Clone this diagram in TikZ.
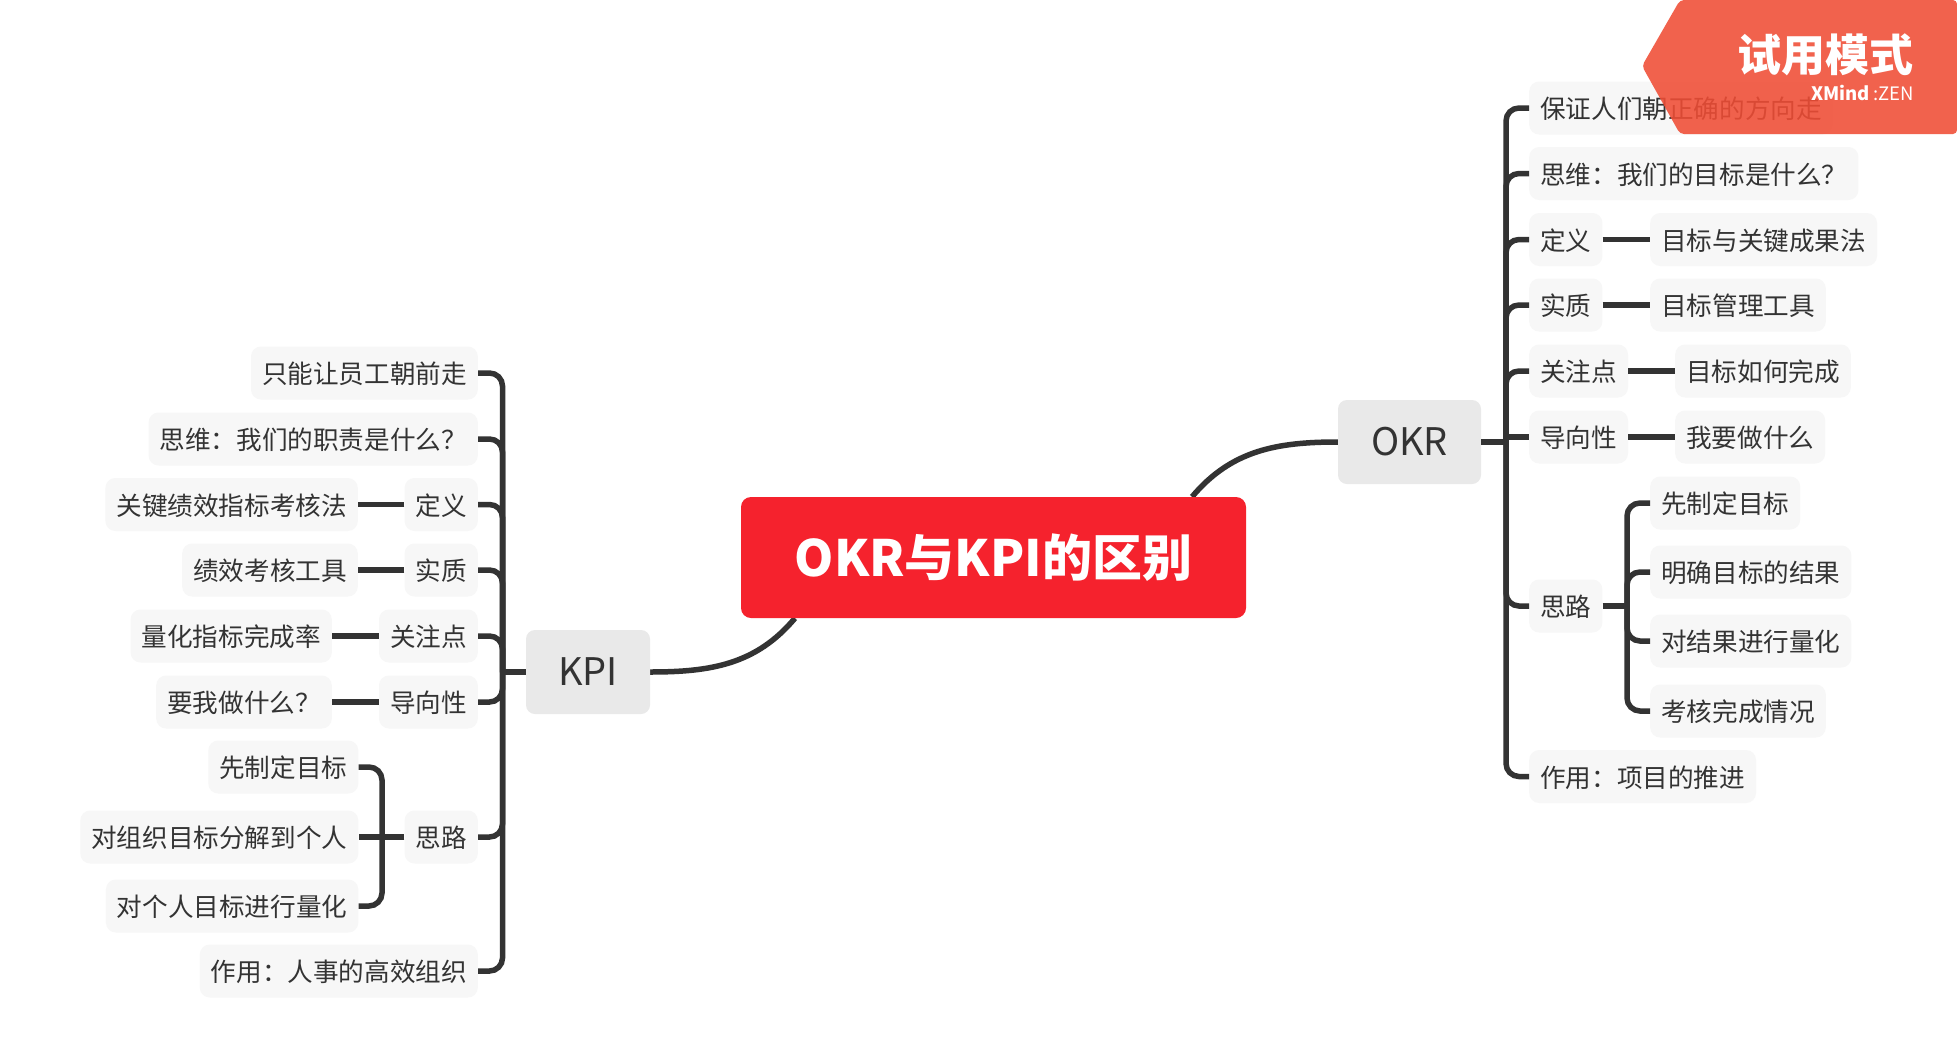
\documentclass[tikz,border=0pt]{standalone}
\usepackage{fontspec}
\usetikzlibrary{backgrounds}
\setmainfont{Noto Sans CJK SC}
\definecolor{inkgrey}{HTML}{333333}
\definecolor{boxgrey}{HTML}{F7F7F7}
\definecolor{maingrey}{HTML}{E9E9E9}
\definecolor{titlered}{HTML}{F5222D}
\definecolor{trialred}{HTML}{F04D35}
\tikzstyle{leaf}=[fill=boxgrey,rounded corners=10pt,minimum height=53pt,inner xsep=11pt,text height=26pt,text depth=4.6pt,text=inkgrey,font=\fontsize{25.6}{30}\selectfont]
\tikzstyle{leafleft}=[leaf,anchor=east]
\tikzstyle{leafright}=[leaf,anchor=west]
\tikzstyle{mainbox}=[fill=maingrey,rounded corners=9pt,minimum height=84pt,text=inkgrey,font=\fontsize{38}{44}\selectfont]
\tikzstyle{titlebox}=[fill=titlered,rounded corners=10pt,minimum width=505pt,minimum height=121pt,text=white,font=\fontsize{50}{58}\selectfont\bfseries]
\tikzstyle{branch}=[draw=inkgrey,line width=5.5pt,rounded corners=13pt]
\begin{document}
\begin{tikzpicture}[x=1pt,y=1pt]
\tikzstyle{every node}+=[inner sep=0pt]
\useasboundingbox (0,0) rectangle (1957,-1050);
\node (title) [titlebox] at (993.5,-557.5) {OKR与KPI的区别};
\node (okr) [mainbox,minimum width=143pt] at (1409.5,-442) {OKR};
\node (kpi) [mainbox,minimum width=124pt] at (588,-672) {KPI};
\coordinate (okrbus) at (1506,-442);
\coordinate (kpibus) at (502.5,-672);
\coordinate (okrsub) at (1627,-606);
\coordinate (kpisub) at (382,-837);
\node (okra) [leafright] at (1529,-108) {保证人们朝正确的方向走};
\node (okrb) [leafright] at (1529,-173.5) {思维：我们的目标是什么？};
\node (okrc) [leafright] at (1529,-239.5) {定义};
\node (okrcc) [leafright] at (1650,-239.5) {目标与关键成果法};
\node (okrd) [leafright] at (1529,-305) {实质};
\node (okrdd) [leafright] at (1650,-305) {目标管理工具};
\node (okre) [leafright] at (1529,-371) {关注点};
\node (okree) [leafright] at (1675,-371) {目标如何完成};
\node (okrf) [leafright] at (1529,-437) {导向性};
\node (okrff) [leafright] at (1675,-437) {我要做什么};
\node (okrg) [leafright] at (1529,-606) {思路};
\node (okrga) [leafright] at (1650,-503) {先制定目标};
\node (okrgb) [leafright] at (1650,-572) {明确目标的结果};
\node (okrgc) [leafright] at (1650,-641) {对结果进行量化};
\node (okrgd) [leafright] at (1650,-711) {考核完成情况};
\node (okrh) [leafright] at (1529,-776.5) {作用：项目的推进};
\node (kpia) [leafleft] at (478,-373) {只能让员工朝前走};
\node (kpib) [leafleft] at (478,-439) {思维：我们的职责是什么？};
\node (kpic) [leafleft] at (478,-504.5) {定义};
\node (kpicc) [leafleft] at (358,-504.5) {关键绩效指标考核法};
\node (kpid) [leafleft] at (478,-570) {实质};
\node (kpidd) [leafleft] at (358,-570) {绩效考核工具};
\node (kpie) [leafleft] at (478,-636) {关注点};
\node (kpiee) [leafleft] at (332,-636) {量化指标完成率};
\node (kpif) [leafleft] at (478,-702) {导向性};
\node (kpiff) [leafleft] at (332,-702) {要我做什么？};
\node (kpig) [leafleft] at (478,-837) {思路};
\node (kpiga) [leafleft] at (358.5,-767) {先制定目标};
\node (kpigb) [leafleft] at (358.5,-837) {对组织目标分解到个人};
\node (kpigc) [leafleft] at (358.5,-906) {对个人目标进行量化};
\node (kpih) [leafleft] at (478,-971) {作用：人事的高效组织};
\begin{pgfonlayer}{background}
\fill [white] (0,0) rectangle (1957,-1050);
\draw [branch] (okr.west) to [out=180,in=50] (title.17);
\draw [branch] (kpi.east) to [out=0,in=230] (title.197);
\end{pgfonlayer}
\draw [branch] (okr.east) -- (okrbus);
\draw [branch] (okrbus) |- (okra.west);
\draw [branch] (okrbus) |- (okrb.west);
\draw [branch] (okrbus) |- (okrc.west);
\draw [branch] (okrbus) |- (okrd.west);
\draw [branch] (okrbus) |- (okre.west);
\draw [branch] (okrbus |- okrf.west) -- (okrf.west);
\draw [branch] (okrbus) |- (okrg.west);
\draw [branch] (okrbus) |- (okrh.west);
\draw [branch] (okrc.east) -- (okrcc.west);
\draw [branch] (okrd.east) -- (okrdd.west);
\draw [branch] (okre.east) -- (okree.west);
\draw [branch] (okrf.east) -- (okrff.west);
\draw [branch] (okrg.east) -- (okrsub);
\draw [branch] (okrsub) |- (okrga.west);
\draw [branch] (okrsub) |- (okrgb.west);
\draw [branch] (okrsub) |- (okrgc.west);
\draw [branch] (okrsub) |- (okrgd.west);
\draw [branch] (kpi.west) -- (kpibus);
\draw [branch] (kpibus) |- (kpia.east);
\draw [branch] (kpibus) |- (kpib.east);
\draw [branch] (kpibus) |- (kpic.east);
\draw [branch] (kpibus) |- (kpid.east);
\draw [branch] (kpibus) |- (kpie.east);
\draw [branch] (kpibus) |- (kpif.east);
\draw [branch] (kpibus) |- (kpig.east);
\draw [branch] (kpibus) |- (kpih.east);
\draw [branch] (kpic.west) -- (kpicc.east);
\draw [branch] (kpid.west) -- (kpidd.east);
\draw [branch] (kpie.west) -- (kpiee.east);
\draw [branch] (kpif.west) -- (kpiff.east);
\draw [branch] (kpig.west) -- (kpigb.east);
\draw [branch] (kpisub) |- (kpiga.east);
\draw [branch] (kpisub) |- (kpigc.east);
\fill [trialred,opacity=0.88,rounded corners=4pt] (1680,0) -- (1957,0) -- (1957,-134) -- (1680,-134) -- (1642,-66) -- cycle;
\node (trial) [text=white,font=\fontsize{44}{50}\selectfont\bfseries] at (1825.5,-55) {试用模式};
\node (brand) [text=white,anchor=east,font=\fontsize{18.5}{22}\selectfont] at (1914,-93) {\textbf{XMind}\,:ZEN};
\end{tikzpicture}
\end{document}
